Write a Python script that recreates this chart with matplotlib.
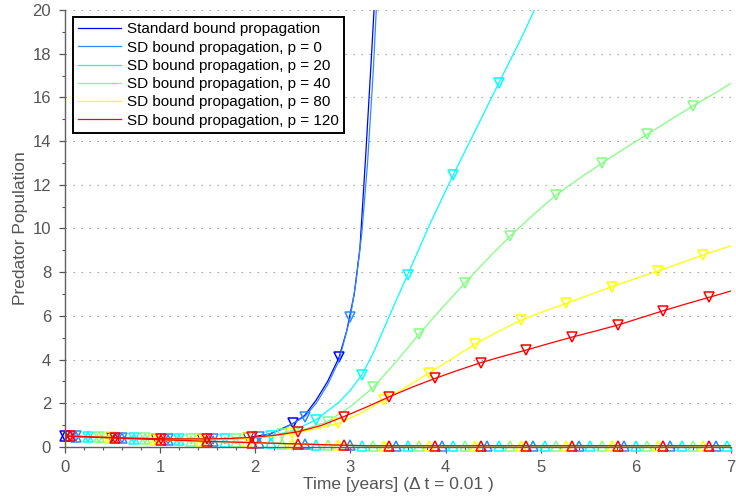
import numpy as np
import matplotlib.pyplot as plt
from matplotlib.ticker import MultipleLocator

plt.rcParams['font.family'] = ['Liberation Sans', 'DejaVu Sans']

labels = ['Standard bound propagation',
          'SD bound propagation, p = 0',
          'SD bound propagation, p = 20',
          'SD bound propagation, p = 40',
          'SD bound propagation, p = 80',
          'SD bound propagation, p = 120']
colors = ['#0000ff', '#2a8cff', '#00ffff', '#80ff80', '#ffff00', '#ff0000']
# time of the first marker of every series (markers every 0.48 years)
phases = [0.0, 0.12, 0.24, 0.36, 0.47, 0.05]
MARK_STEP = 0.48
LOW_STEP = 0.24

# upper bounds (down triangles)
t_std_hi = [0, 0.24, 0.48, 0.72, 0.96, 1.20, 1.44, 1.68, 1.92, 2.16, 2.40, 2.52,
            2.64, 2.76, 2.88, 2.96, 3.04, 3.10, 3.16, 3.22, 3.28]
y_std_hi = [0.50, 0.47, 0.43, 0.40, 0.37, 0.36, 0.35, 0.37, 0.43, 0.60, 1.08, 1.45,
            2.15, 3.0, 4.10, 5.3, 7.0, 9.1, 13.3, 17.8, 22.5]

t_p0_hi = [0, 0.12, 0.36, 0.60, 0.84, 1.08, 1.32, 1.56, 1.80, 2.04, 2.28, 2.52,
           2.64, 2.76, 2.88, 3.00, 3.06, 3.12, 3.18, 3.24, 3.30]
y_p0_hi = [0.50, 0.49, 0.45, 0.42, 0.39, 0.37, 0.36, 0.36, 0.39, 0.46, 0.80, 1.39,
           2.0, 2.85, 3.95, 5.96, 7.6, 9.8, 13.0, 17.2, 22.5]

t_p20_hi = [0, 0.24, 0.48, 0.72, 0.96, 1.20, 1.44, 1.68, 1.92, 2.16, 2.40, 2.64,
            2.88, 3.00, 3.12, 3.24, 3.36, 3.48, 3.60, 3.84, 4.08, 4.32, 4.56, 4.80, 5.04]
y_p20_hi = [0.50, 0.47, 0.43, 0.40, 0.38, 0.36, 0.35, 0.36, 0.40, 0.50, 0.75, 1.25,
            2.05, 2.60, 3.30, 4.30, 5.50, 6.70, 7.87, 10.25, 12.45, 14.55, 16.66, 18.75, 21.0]

t_p40_hi = [0, 0.36, 0.60, 0.84, 1.08, 1.32, 1.56, 1.80, 2.04, 2.28, 2.52, 2.76,
            3.00, 3.24, 3.48, 3.72, 3.96, 4.20, 4.44, 4.68, 4.92, 5.16, 5.40, 5.64,
            5.88, 6.12, 6.36, 6.60, 6.84, 7.0]
y_p40_hi = [0.50, 0.45, 0.42, 0.39, 0.37, 0.36, 0.36, 0.38, 0.44, 0.58, 0.82, 1.16,
            1.85, 2.73, 3.90, 5.16, 6.35, 7.49, 8.60, 9.66, 10.62, 11.53, 12.28, 12.98,
            13.66, 14.31, 14.97, 15.61, 16.22, 16.64]

t_p80_hi = [0, 0.23, 0.47, 0.71, 0.95, 1.19, 1.43, 1.67, 1.91, 2.15, 2.39, 2.63,
            2.87, 3.11, 3.35, 3.59, 3.83, 4.07, 4.31, 4.55, 4.79, 5.03, 5.27, 5.51,
            5.75, 5.99, 6.23, 6.47, 6.71, 7.0]
y_p80_hi = [0.50, 0.47, 0.44, 0.41, 0.38, 0.36, 0.35, 0.36, 0.40, 0.48, 0.62, 0.82,
            1.08, 1.55, 2.15, 2.75, 3.40, 4.05, 4.71, 5.28, 5.80, 6.20, 6.57, 6.96,
            7.34, 7.70, 8.05, 8.42, 8.79, 9.21]

t_p120_hi = [0, 0.05, 0.29, 0.53, 0.77, 1.01, 1.25, 1.49, 1.73, 1.97, 2.21, 2.45,
             2.69, 2.93, 3.17, 3.41, 3.65, 3.89, 4.13, 4.37, 4.61, 4.85, 5.09, 5.33,
             5.57, 5.81, 6.05, 6.29, 6.53, 6.77, 7.0]
y_p120_hi = [0.50, 0.50, 0.46, 0.43, 0.40, 0.38, 0.37, 0.37, 0.39, 0.44, 0.54, 0.70,
             0.98, 1.39, 1.83, 2.30, 2.74, 3.14, 3.51, 3.86, 4.16, 4.44, 4.74, 5.03,
             5.30, 5.58, 5.91, 6.24, 6.55, 6.85, 7.14]

# lower bounds (up triangles): value at t=0, then every 0.24 years from the phase, then t=7
t_std_lo = [0, 0.01, 7.0]
y_std_lo = [0.50, -2.0, -2.0]
y_p0_lo = [0.50, 0.48, 0.44, 0.40, 0.36, 0.32, 0.29, 0.26, 0.23, 0.19, 0.16, 0.13,
           0.10, 0.07, 0.05, 0.04, 0.04, 0.04, 0.04, 0.04, 0.04, 0.04, 0.04, 0.04,
           0.04, 0.04, 0.04, 0.04, 0.04, 0.04, 0.04]
y_p20_lo = [0.50, 0.46, 0.42, 0.38, 0.34, 0.30, 0.27, 0.24, 0.21, 0.17, 0.14, 0.11,
            0.08, 0.06, 0.06, 0.06, 0.06, 0.06, 0.06, 0.06, 0.06, 0.06, 0.06, 0.06,
            0.06, 0.06, 0.06, 0.06, 0.06, 0.06, 0.06]
y_p40_lo = [0.50, 0.44, 0.40, 0.36, 0.32, 0.29, 0.26, 0.23, 0.19, 0.16, 0.13, 0.10,
            0.07, 0.06, 0.06, 0.06, 0.06, 0.06, 0.06, 0.06, 0.06, 0.06, 0.06, 0.06,
            0.06, 0.06, 0.06, 0.06, 0.06, 0.06]
y_p80_lo = [0.50, 0.42, 0.38, 0.34, 0.30, 0.27, 0.24, 0.21, 0.17, 0.14, 0.11, 0.08,
            0.06, 0.06, 0.06, 0.06, 0.06, 0.06, 0.06, 0.06, 0.06, 0.06, 0.06, 0.06,
            0.06, 0.06, 0.06, 0.06, 0.06, 0.06]
y_p120_lo = [0.50, 0.49, 0.45, 0.41, 0.37, 0.33, 0.30, 0.26, 0.23, 0.20, 0.17, 0.14,
             0.11, 0.08, 0.06, 0.06, 0.06, 0.06, 0.06, 0.06, 0.06, 0.06, 0.06, 0.06,
             0.06, 0.06, 0.06, 0.06, 0.06, 0.06, 0.06]


def low_times(phase, vals):
    grid = phase + LOW_STEP * np.arange(len(vals) - 2)
    assert grid[-1] < 7.0 and grid[-1] > 6.7, (phase, grid[-1])
    return np.r_[0.0, grid, 7.0]


def marker_mask(t, y, phase):
    k = (t - phase) / MARK_STEP
    return (t >= phase - 1e-9) & (np.abs(k - np.round(k)) < 1e-3) & (y >= 0) & (y <= 20)


upper = [(t_std_hi, y_std_hi), (t_p0_hi, y_p0_hi), (t_p20_hi, y_p20_hi),
         (t_p40_hi, y_p40_hi), (t_p80_hi, y_p80_hi), (t_p120_hi, y_p120_hi)]
lower = [(t_std_lo, y_std_lo)]
for ph, v in zip(phases[1:], [y_p0_lo, y_p20_lo, y_p40_lo, y_p80_lo, y_p120_lo]):
    lower.append((low_times(ph, v), v))

fig = plt.figure(figsize=(7.36, 5.04), dpi=100)
ax = fig.add_axes([65 / 736, 1 - 447 / 504, 666 / 736, 437 / 504])

handles = []
for i in range(6):
    c = colors[i]
    for (t, y), mk in ((upper[i], 'v'), (lower[i], '^')):
        t = np.asarray(t, float)
        y = np.asarray(y, float)
        ln, = ax.plot(t, y, color=c, lw=0.9)
        if mk == 'v':
            handles.append(ln)
        m = marker_mask(t, y, phases[i])
        ax.plot(t[m], y[m], ls='none', marker=mk, ms=7, mfc='none', mec=c,
                mew=1.1, clip_on=False)

ax.set_xlim(0, 7)
ax.set_ylim(0, 20)
ax.set_xticks(range(0, 8))
ax.set_yticks(range(0, 21, 2))
ax.xaxis.set_minor_locator(MultipleLocator(0.2))
ax.yaxis.set_minor_locator(MultipleLocator(1))
ax.tick_params(which='major', direction='out', length=4, width=0.9,
               colors='#555555', labelsize=12)
ax.tick_params(axis='y', which='major', pad=6)
ax.tick_params(axis='x', which='major', pad=5)
ax.tick_params(which='minor', direction='out', length=2.5, width=0.8, colors='#555555')
for s in ['top', 'right']:
    ax.spines[s].set_visible(False)
for s in ['left', 'bottom']:
    ax.spines[s].set_color('#606060')
    ax.spines[s].set_linewidth(1.0)
ax.yaxis.grid(True, which='major', ls=(0, (1.2, 6)), color='#999999', lw=0.8)
ax.set_axisbelow(True)

ax.set_xlabel('Time [years] (\u0394 t = 0.01 )', fontsize=12.5, color='#555555', labelpad=2)
ax.set_ylabel('Predator Population', fontsize=12.5, color='#555555', labelpad=3)

leg = ax.legend(handles, labels, loc='upper left', bbox_to_anchor=(0.012, 0.984),
                borderaxespad=0, fontsize=11, fancybox=False, edgecolor='black',
                framealpha=1, handlelength=2.8, handletextpad=0.4, labelspacing=0.28,
                borderpad=0.35)
leg.get_frame().set_linewidth(1.4)
leg.set_zorder(10)

fig.savefig('out.png', dpi=100)
